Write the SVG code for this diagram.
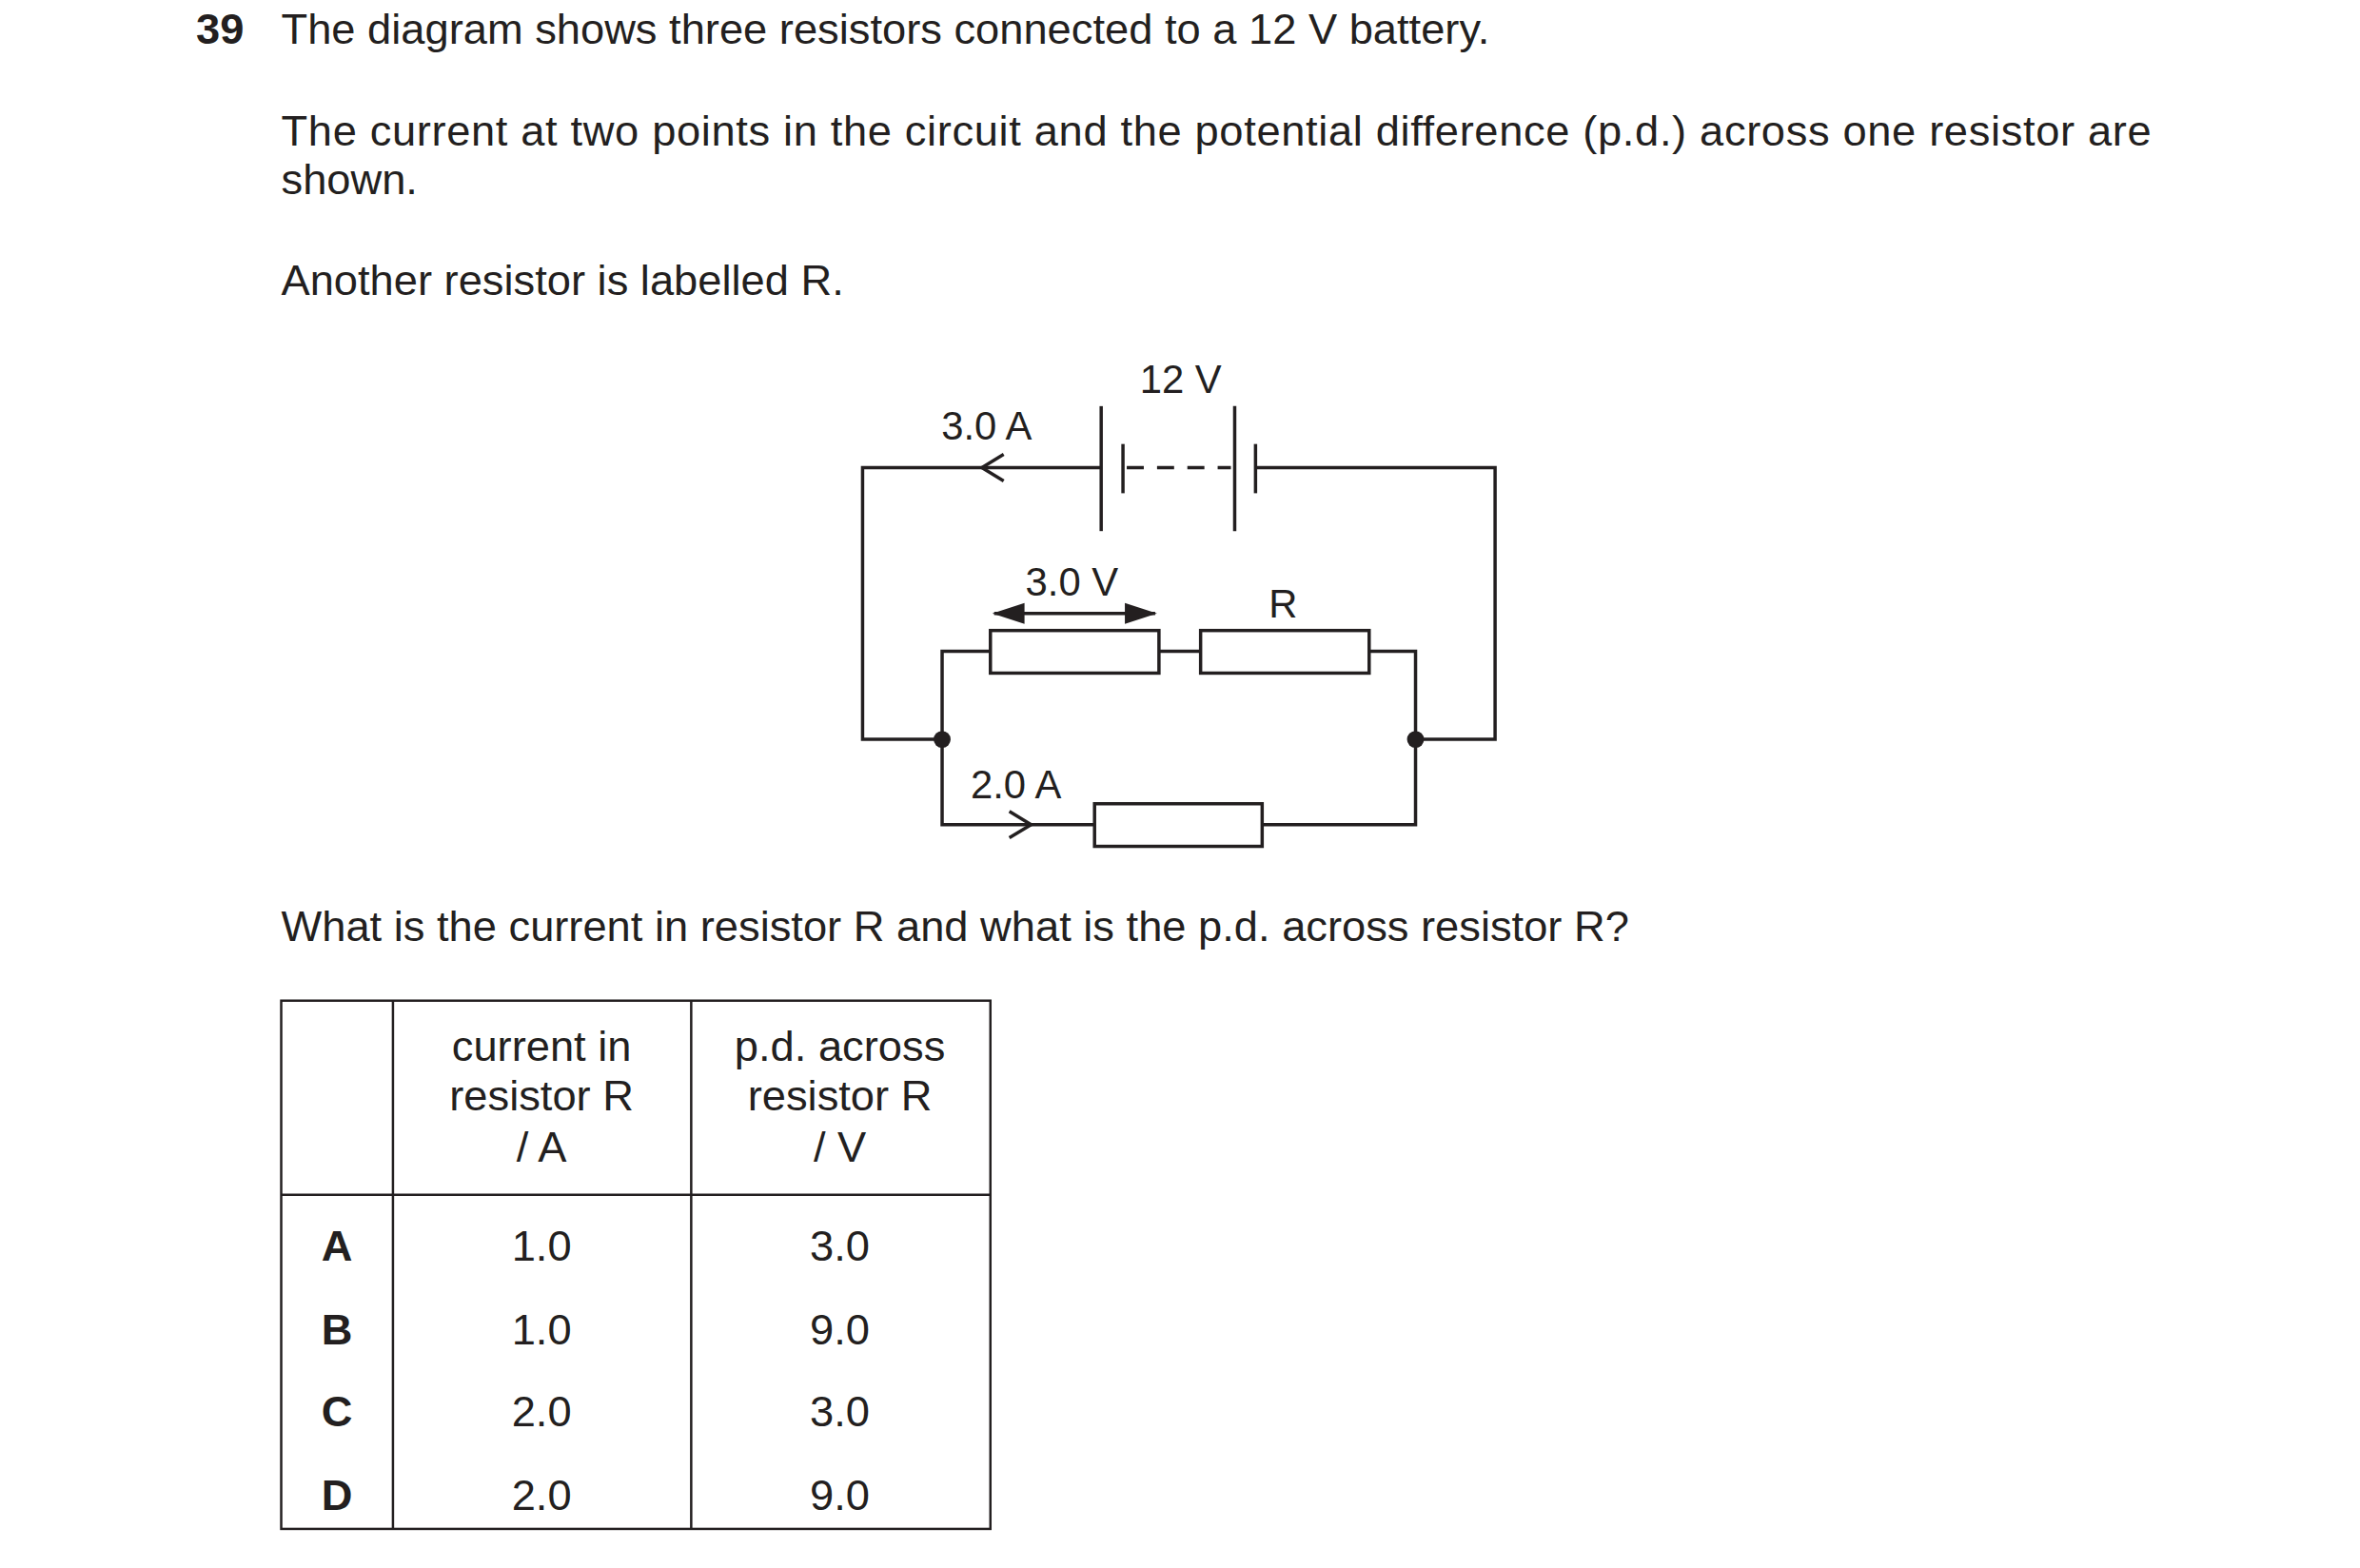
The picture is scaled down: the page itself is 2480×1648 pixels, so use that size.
<svg xmlns="http://www.w3.org/2000/svg" width="2480" height="1648" viewBox="0 0 2480 1648">
<style>
text{font-family:"Liberation Sans",Arial,sans-serif;font-size:45.5px;fill:#231f20}
.s{font-size:42px}
.c{text-anchor:middle}
.b{font-weight:bold}
.w{fill:none;stroke:#231f20;stroke-width:3.5}
.r{fill:#fff;stroke:#231f20;stroke-width:3.5}
.t{stroke:#231f20;stroke-width:2.5;fill:none}
</style>
<rect width="2480" height="1648" fill="#fff"/>
<g transform="scale(0.995)">
<text x="207" y="46" class="b">39</text>
<text x="297" y="46">The diagram shows three resistors connected to a 12 V battery.</text>
<text x="297" y="154" textLength="1975" lengthAdjust="spacing">The current at two points in the circuit and the potential difference (p.d.) across one resistor are</text>
<text x="297" y="205">shown.</text>
<text x="297" y="312">Another resistor is labelled R.</text>
<text x="297" y="994">What is the current in resistor R and what is the p.d. across resistor R?</text>

<g id="connectors">
<polyline class="w" points="1163,494 911,494 911,781 995,781"/>
<polyline class="w" points="1495,781 1579,781 1579,494 1326,494"/>
<line class="w" x1="1190" y1="494" x2="1300" y2="494" stroke-dasharray="18,14"/>
<polyline class="w" points="1046,688 995,688 995,871 1156,871"/>
<polyline class="w" points="1333,871 1495,871 1495,688 1446,688"/>
<line class="w" x1="1224" y1="688" x2="1268" y2="688"/>
<polyline class="w" points="1060,480 1037,494 1060,508"/>
<polyline class="w" points="1066,857 1089,871 1066,885"/>
<line x1="1050" y1="648" x2="1220" y2="648" stroke="#231f20" stroke-width="3.5"/>
<path d="M1048,648 L1082,637 L1082,659 Z M1222,648 L1188,637 L1188,659 Z" fill="#231f20"/>
<circle cx="995" cy="781" r="9" fill="#231f20"/>
<circle cx="1495" cy="781" r="9" fill="#231f20"/>
</g>
<g id="battery">
<line class="w" x1="1163" y1="429" x2="1163" y2="561"/>
<line class="w" x1="1186" y1="469" x2="1186" y2="521"/>
<line class="w" x1="1304" y1="429" x2="1304" y2="561"/>
<line class="w" x1="1326" y1="469" x2="1326" y2="521"/>
<text x="1247" y="415" class="c s">12 V</text>
<text x="1042" y="464" class="c s">3.0 A</text>
</g>
<g id="resistor1"><rect class="r" x="1046" y="666" width="178" height="45"/><text x="1132" y="629" class="c s">3.0 V</text></g>
<g id="resistorR"><rect class="r" x="1268" y="666" width="178" height="45"/><text x="1355" y="652" class="c s">R</text></g>
<g id="resistor3"><rect class="r" x="1156" y="849" width="177" height="45"/><text x="1073" y="843" class="c s">2.0 A</text></g>

<g id="table">
<rect class="t" x="297" y="1057" width="749" height="558"/>
<line class="t" x1="415" y1="1057" x2="415" y2="1615"/>
<line class="t" x1="730" y1="1057" x2="730" y2="1615"/>
<line class="t" x1="297" y1="1262" x2="1046" y2="1262"/>
<text x="572" y="1121" class="c">current in</text>
<text x="572" y="1173" class="c">resistor R</text>
<text x="572" y="1227" class="c">/ A</text>
<text x="887" y="1121" class="c">p.d. across</text>
<text x="887" y="1173" class="c">resistor R</text>
<text x="887" y="1227" class="c">/ V</text>
<text x="356" y="1332" class="c b">A</text><text x="572" y="1332" class="c">1.0</text><text x="887" y="1332" class="c">3.0</text>
<text x="356" y="1420" class="c b">B</text><text x="572" y="1420" class="c">1.0</text><text x="887" y="1420" class="c">9.0</text>
<text x="356" y="1507" class="c b">C</text><text x="572" y="1507" class="c">2.0</text><text x="887" y="1507" class="c">3.0</text>
<text x="356" y="1595" class="c b">D</text><text x="572" y="1595" class="c">2.0</text><text x="887" y="1595" class="c">9.0</text>
</g>
</g>
</svg>
